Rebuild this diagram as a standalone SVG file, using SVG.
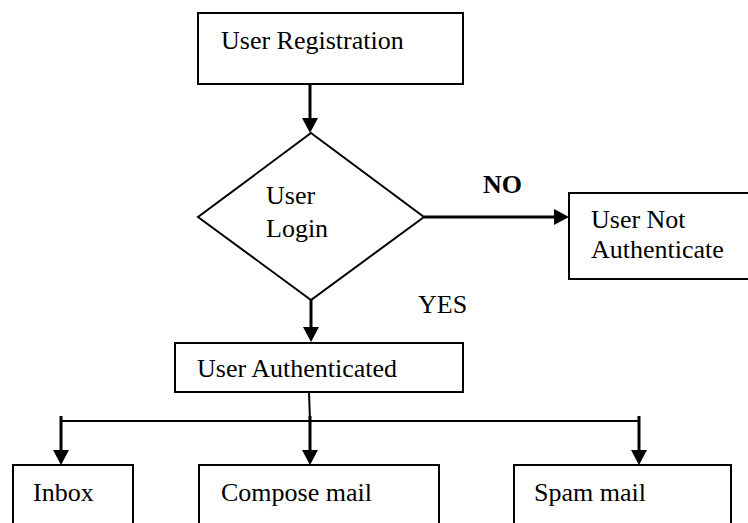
<svg xmlns="http://www.w3.org/2000/svg" width="748" height="523" viewBox="0 0 748 523">
<defs>
<style>
.box{fill:#fff;stroke:#000;stroke-width:2}
.t{font-family:"Liberation Serif","Times New Roman",serif;font-size:26px;fill:#000}
.b{font-weight:bold}
.c{fill:none;stroke:#000;stroke-width:3}
.h{fill:none;stroke:#000;stroke-width:2}
</style>
<marker id="ah" markerUnits="userSpaceOnUse" markerWidth="16" markerHeight="16" refX="9" refY="8" orient="auto">
<path d="M0,0 L15,8 L0,16 z" fill="#000"/>
</marker>
</defs>
<rect width="748" height="523" fill="#fff"/>
<g id="connectors">
<line class="c" x1="310" y1="84" x2="310" y2="127" marker-end="url(#ah)"/>
<line class="c" x1="424" y1="217" x2="563" y2="217" marker-end="url(#ah)"/>
<line class="c" x1="311" y1="300" x2="311" y2="336" marker-end="url(#ah)"/>
<line class="h" x1="309" y1="392" x2="310" y2="421"/>
<line class="h" x1="61" y1="421" x2="639" y2="421"/>
<line class="c" x1="61" y1="416" x2="61" y2="459" marker-end="url(#ah)"/>
<line class="c" x1="310" y1="416" x2="310" y2="459" marker-end="url(#ah)"/>
<line class="c" x1="639" y1="416" x2="639" y2="459" marker-end="url(#ah)"/>
<text class="t b" x="483" y="193">NO</text>
<text class="t" x="418" y="313">YES</text>
</g>
<g id="registration">
<rect class="box" x="198" y="13" width="265" height="71"/>
<text class="t" x="221" y="49">User Registration</text>
</g>
<g id="login">
<polygon class="box" points="311,133 424,217 311,300 198,217"/>
<text class="t" x="266" y="204">User</text>
<text class="t" x="266" y="237">Login</text>
</g>
<g id="not-authenticated">
<rect class="box" x="569" y="193" width="190" height="86"/>
<text class="t" x="591" y="228">User Not</text>
<text class="t" x="591" y="258">Authenticate</text>
</g>
<g id="authenticated">
<rect class="box" x="175" y="343" width="288" height="49"/>
<text class="t" x="197" y="377">User Authenticated</text>
</g>
<g id="inbox">
<rect class="box" x="13" y="465" width="120" height="70"/>
<text class="t" x="33" y="501">Inbox</text>
</g>
<g id="compose">
<rect class="box" x="199" y="465" width="240" height="70"/>
<text class="t" x="221" y="501">Compose mail</text>
</g>
<g id="spam">
<rect class="box" x="514" y="465" width="217" height="70"/>
<text class="t" x="534" y="501">Spam mail</text>
</g>
</svg>
